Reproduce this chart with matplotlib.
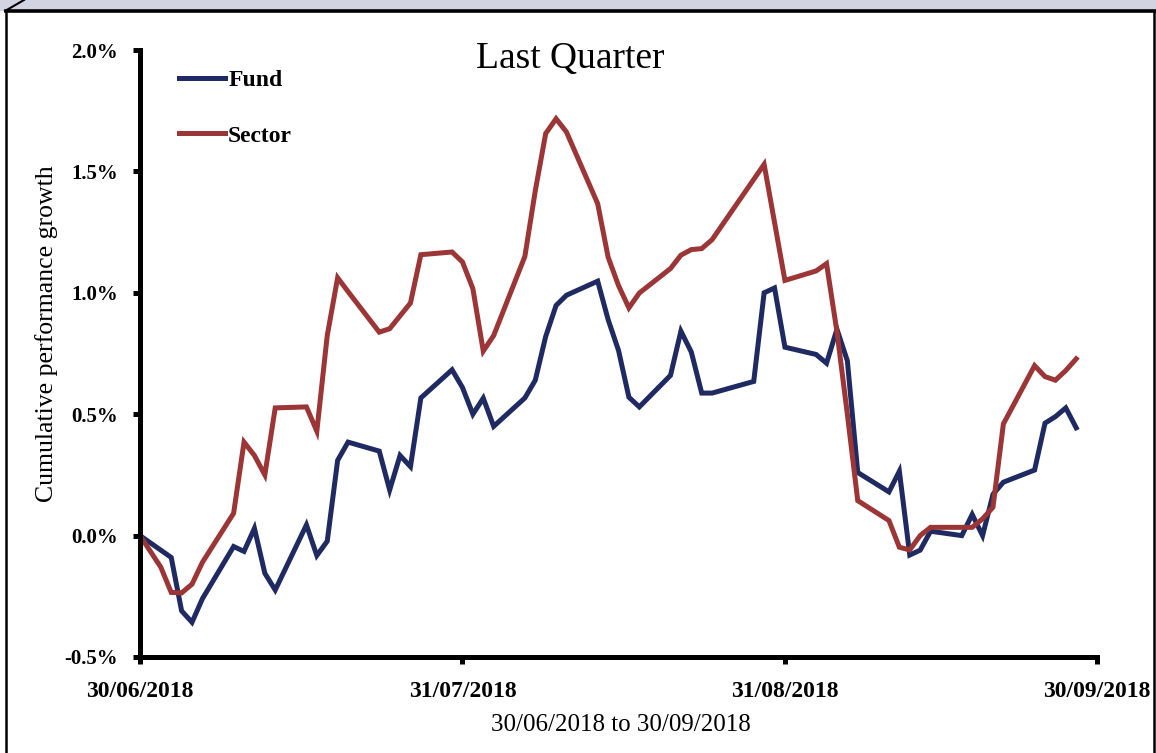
import matplotlib
matplotlib.use("Agg")
import matplotlib.pyplot as plt
import matplotlib.dates as mdates
from matplotlib.lines import Line2D
from matplotlib.patches import Rectangle
from matplotlib.ticker import FuncFormatter
import pandas as pd

# daily cumulative growth (%), business days over the quarter
dates = ["2018-06-30", "2018-07-02", "2018-07-03", "2018-07-04", "2018-07-05", "2018-07-06",
         "2018-07-09", "2018-07-10", "2018-07-11", "2018-07-12", "2018-07-13",
         "2018-07-16", "2018-07-17", "2018-07-18", "2018-07-19", "2018-07-20",
         "2018-07-23", "2018-07-24", "2018-07-25", "2018-07-26", "2018-07-27",
         "2018-07-30", "2018-07-31", "2018-08-01", "2018-08-02", "2018-08-03",
         "2018-08-06", "2018-08-07", "2018-08-08", "2018-08-09", "2018-08-10",
         "2018-08-13", "2018-08-14", "2018-08-15", "2018-08-16", "2018-08-17",
         "2018-08-20", "2018-08-21", "2018-08-22", "2018-08-23", "2018-08-24",
         "2018-08-28", "2018-08-29", "2018-08-30", "2018-08-31",
         "2018-09-03", "2018-09-04", "2018-09-05", "2018-09-06", "2018-09-07",
         "2018-09-10", "2018-09-11", "2018-09-12", "2018-09-13", "2018-09-14",
         "2018-09-17", "2018-09-18", "2018-09-19", "2018-09-20", "2018-09-21",
         "2018-09-24", "2018-09-25", "2018-09-26", "2018-09-27", "2018-09-28"]

fund = [0.0, -0.06, -0.09, -0.31, -0.357, -0.26,
        -0.045, -0.065, 0.03, -0.155, -0.224,
        0.044, -0.082, -0.023, 0.31, 0.385,
        0.348, 0.188, 0.33, 0.284, 0.567,
        0.683, 0.61, 0.50, 0.566, 0.45,
        0.567, 0.64, 0.82, 0.948, 0.99,
        1.048, 0.89, 0.763, 0.57, 0.53,
        0.66, 0.842, 0.756, 0.587, 0.587,
        0.635, 1.0, 1.02, 0.776,
        0.746, 0.71, 0.85, 0.72, 0.26,
        0.18, 0.265, -0.08, -0.06, 0.018,
        0.0, 0.087, 0.0, 0.17, 0.22,
        0.27, 0.463, 0.49, 0.526, 0.444]

sector = [0.0, -0.13, -0.234, -0.236, -0.20, -0.11,
          0.092, 0.385, 0.33, 0.25, 0.526,
          0.53, 0.43, 0.824, 1.062, 1.005,
          0.838, 0.852, 0.905, 0.958, 1.157,
          1.168, 1.127, 1.017, 0.76, 0.824,
          1.15, 1.42, 1.656, 1.717, 1.662,
          1.367, 1.147, 1.03, 0.938, 0.999,
          1.10, 1.155, 1.178, 1.182, 1.219,
          1.467, 1.529, 1.29, 1.051,
          1.09, 1.12, 0.84, 0.50, 0.144,
          0.062, -0.048, -0.059, 0.0, 0.034,
          0.034, 0.034, 0.069, 0.117, 0.46,
          0.70, 0.655, 0.64, 0.68, 0.728]

x_ticks = ["2018-06-30", "2018-07-31", "2018-08-31", "2018-09-30"]
y_ticks = [-0.5, 0.0, 0.5, 1.0, 1.5, 2.0]

fund_color = "#1f2a62"
sector_color = "#9c3535"
serif = "Liberation Serif"

d = pd.to_datetime(dates)

fig = plt.figure(figsize=(11.56, 7.53), dpi=100)
ax = fig.add_axes([140 / 1156, 1 - 657 / 753, 957 / 1156, 607 / 753])

ax.plot(d, fund, color=fund_color, lw=3.6, label="Fund", solid_joinstyle="miter")
ax.plot(d, sector, color=sector_color, lw=3.6, label="Sector", solid_joinstyle="miter")

ax.set_xlim(pd.Timestamp(x_ticks[0]), pd.Timestamp(x_ticks[-1]))
ax.set_ylim(-0.5, 2.0)
ax.set_xticks(pd.to_datetime(x_ticks))
ax.xaxis.set_major_formatter(mdates.DateFormatter("%d/%m/%Y"))
ax.set_yticks(y_ticks)
ax.yaxis.set_major_formatter(FuncFormatter(lambda v, p: f"{v:.1f}%"))

for s in ["top", "right"]:
    ax.spines[s].set_visible(False)
for s in ["left", "bottom"]:
    ax.spines[s].set_linewidth(3.6)
    ax.spines[s].set_capstyle("projecting")

ax.tick_params(axis="both", direction="out", length=5, width=3.6, color="black")
ax.tick_params(axis="y", pad=11)
ax.tick_params(axis="x", pad=12)
for lab in ax.get_yticklabels():
    lab.set_fontfamily(serif)
    lab.set_fontweight("bold")
    lab.set_fontsize(15)
for lab in ax.get_xticklabels():
    lab.set_fontfamily(serif)
    lab.set_fontweight("bold")
    lab.set_fontsize(17)

ax.set_ylabel("Cumulative performance growth", fontfamily=serif, fontsize=18.5)
ax.yaxis.set_label_coords(-0.086, 0.532)
ax.set_xlabel("30/06/2018 to 30/09/2018", fontfamily=serif, fontsize=18)
ax.xaxis.set_label_coords(0.502, -0.094)

fig.text(570 / 1156, 1 - 59 / 753, "Last Quarter", fontfamily=serif, fontsize=27,
         ha="center", va="center")

leg = ax.legend(loc="upper left", bbox_to_anchor=(0.041, 0.968), frameon=False,
                prop={"family": serif, "weight": "bold", "size": 17},
                handlelength=1.95, handletextpad=0.12, labelspacing=1.45,
                borderpad=0, borderaxespad=0)

# outer frame with shaded top edge
fig.add_artist(Rectangle((0, 1 - 11 / 753), 1, 11 / 753, transform=fig.transFigure,
                         facecolor="#d3d4e1", edgecolor="none", zorder=0))
fig.add_artist(Line2D([6 / 1156, 1], [1 - 11 / 753, 1 - 11 / 753], transform=fig.transFigure,
                      color="black", lw=2.6))
fig.add_artist(Line2D([6 / 1156, 6 / 1156], [0, 1 - 11 / 753], transform=fig.transFigure,
                      color="black", lw=1.8))
fig.add_artist(Line2D([1154 / 1156, 1154 / 1156], [0, 1 - 11 / 753], transform=fig.transFigure,
                      color="black", lw=1.8))
fig.add_artist(Line2D([5 / 1156, 24 / 1156], [1 - 11 / 753, 1], transform=fig.transFigure,
                      color="black", lw=1.5))

fig.savefig("out.png", dpi=100)
